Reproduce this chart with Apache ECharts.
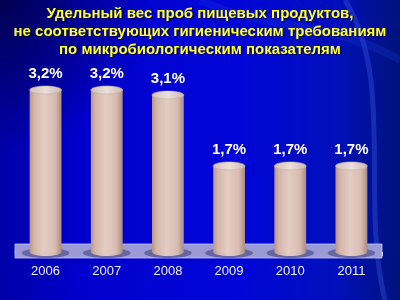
<!DOCTYPE html>
<html><head><meta charset="utf-8">
<script src="https://cdn.jsdelivr.net/npm/echarts@6/dist/echarts.min.js"></script>
<style>html,body{margin:0;padding:0;background:#0000c0}#c{width:400px;height:300px}</style>
</head><body><div id="c"></div>
<script>
const titleLines = ['Удельный вес проб пищевых продуктов,', 'не соответствующих гигиеническим требованиям', 'по микробиологическим показателям'];
const years = ['2006', '2007', '2008', '2009', '2010', '2011'];
const values = [3.2, 3.2, 3.1, 1.7, 1.7, 1.7];

const chart = echarts.init(document.getElementById('c'), null, {renderer: 'canvas'});

function fmt(v) { return v.toFixed(1).replace('.', ',') + '%'; }

const bodyGrad = new echarts.graphic.LinearGradient(0, 0, 1, 0, [
  {offset: 0, color: '#b8968a'},
  {offset: 0.15, color: '#d4b6aa'},
  {offset: 0.45, color: '#e4cdc4'},
  {offset: 0.8, color: '#d8bcb2'},
  {offset: 1, color: '#ad8c82'}
]);
const topGrad = new echarts.graphic.LinearGradient(0, 0, 1, 0, [
  {offset: 0, color: '#d2bfb8'},
  {offset: 0.5, color: '#ecdfd9'},
  {offset: 1, color: '#cdb7ae'}
]);

const titleGraphics = titleLines.map((t, k) => ({
  type: 'text', z: 10, silent: true, x: 200, y: 14 + k * 18,
  style: {text: t, fill: '#ffff33', font: 'bold 15px "Liberation Sans"', align: 'center', verticalAlign: 'middle',
    textShadowColor: 'rgba(0,0,40,0.8)', textShadowOffsetX: 1, textShadowOffsetY: 1, textShadowBlur: 1}
}));

const option = {
  backgroundColor: '#0000c4',
  graphic: [
    {type: 'rect', z: -10, silent: true, shape: {x: 0, y: 0, width: 400, height: 300},
     style: {fill: new echarts.graphic.LinearGradient(0, 0, 1, 0, [
       {offset: 0, color: '#0000a8'}, {offset: 0.2, color: '#0000cc'},
       {offset: 0.6, color: '#0006d8'}, {offset: 0.85, color: '#0010b8'}, {offset: 1, color: '#00127a'}])}},
    {type: 'rect', z: -9, silent: true, shape: {x: 0, y: 0, width: 400, height: 300},
     style: {fill: new echarts.graphic.RadialGradient(0.0, 0.0, 0.5, [
       {offset: 0, color: 'rgba(0,0,60,0.8)'}, {offset: 1, color: 'rgba(0,0,60,0)'}])}},
    {type: 'bezierCurve', z: -8, silent: true,
     shape: {x1: 345, y1: 0, cpx1: 395, cpy1: 80, cpx2: 360, cpy2: 200, x2: 385, y2: 300},
     style: {stroke: 'rgba(70,110,255,0.3)', lineWidth: 5, fill: null}},
    {type: 'bezierCurve', z: -8, silent: true,
     shape: {x1: 200, y1: 0, cpx1: 260, cpy1: 30, cpx2: 330, cpy2: 20, x2: 400, y2: 60},
     style: {stroke: 'rgba(40,70,230,0.2)', lineWidth: 8, fill: null}}
  ].concat(titleGraphics),
  grid: {left: 15, right: 18, top: 49.5, bottom: 48},
  xAxis: {
    type: 'category', data: years, offset: 6,
    axisLine: {lineStyle: {color: '#d8d8ff', width: 1}},
    axisTick: {show: true, length: 4, lineStyle: {color: '#d8d8ff'}},
    axisLabel: {color: '#eeeeff', fontFamily: 'Liberation Sans', fontSize: 13, margin: 7}
  },
  yAxis: {type: 'value', min: 0, max: 4, show: false, splitLine: {show: false}},
  series: [
    {
      type: 'custom', z: 1, silent: true,
      data: [[0]],
      renderItem: function (params, api) {
        const cs = params.coordSys;
        const base = api.coord([0, 0])[1];
        return {type: 'rect', shape: {x: cs.x, y: base - 8, width: cs.width, height: 14},
          style: {fill: '#9a9ad6', stroke: '#c8c8f0', lineWidth: 0.8}};
      }
    },
    {
      type: 'custom', z: 2,
      data: values.map((v, i) => [i, v]),
      renderItem: function (params, api) {
        const i = api.value(0), v = api.value(1);
        const top = api.coord([i, v]);
        const base = api.coord([i, 0]);
        const w = api.size([1, 0])[0] * 0.52;
        const cx = top[0];
        const ry = 4;
        return {
          type: 'group',
          children: [
            {type: 'ellipse', shape: {cx: cx, cy: base[1] + 1, rx: w * 0.75, ry: 5},
             style: {fill: 'rgba(60,60,120,0.55)'}},
            {type: 'ellipse', shape: {cx: cx, cy: base[1], rx: w / 2, ry: ry}, style: {fill: bodyGrad}},
            {type: 'rect', shape: {x: cx - w / 2, y: top[1], width: w, height: base[1] - top[1]}, style: {fill: bodyGrad}},
            {type: 'ellipse', shape: {cx: cx, cy: top[1], rx: w / 2, ry: ry},
             style: {fill: topGrad, stroke: '#c4aca2', lineWidth: 0.6}},
            {type: 'text', x: cx, y: top[1] - 16,
             style: {text: fmt(v), fill: '#ffffff', font: 'bold 15px "Liberation Sans"', align: 'center', verticalAlign: 'middle',
               textShadowColor: 'rgba(0,0,40,0.7)', textShadowOffsetX: 1, textShadowOffsetY: 1}}
          ]
        };
      }
    }
  ]
};
chart.setOption(option);
</script></body></html>
